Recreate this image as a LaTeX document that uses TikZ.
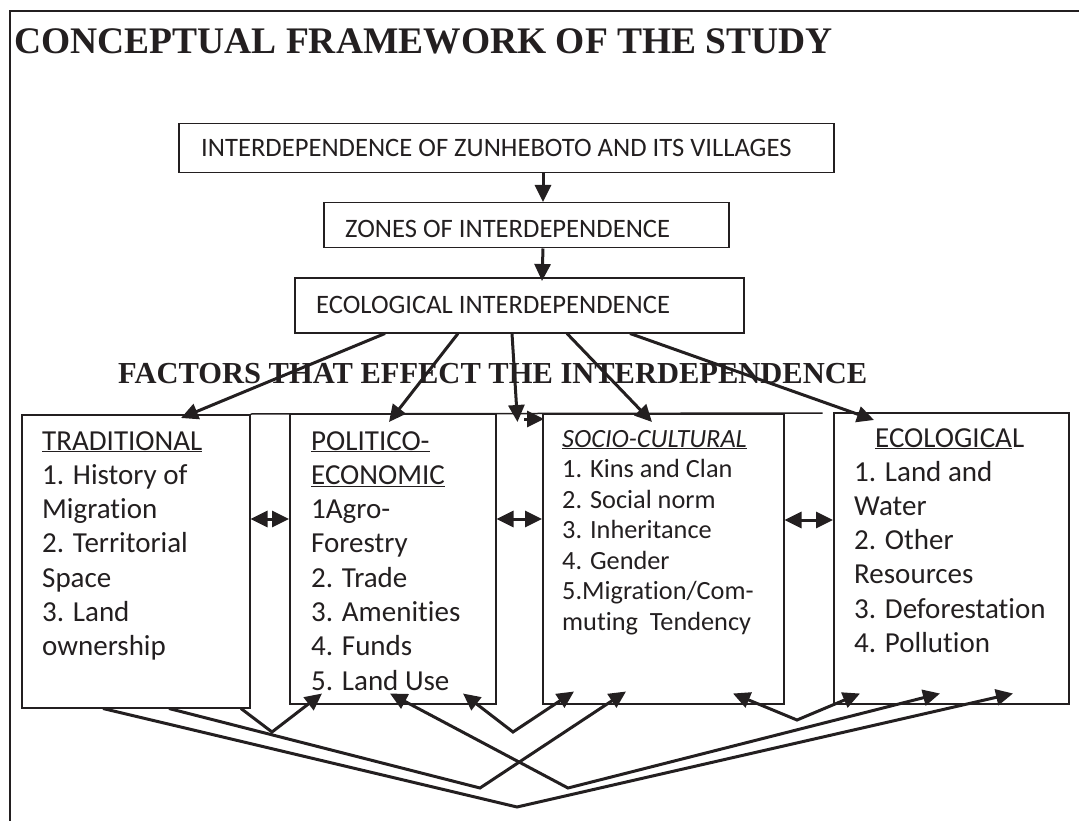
\documentclass[tikz,border=0pt]{standalone}
\usepackage{fontspec}
\setmainfont{Liberation Serif}
\newfontfamily\cfont[Ligatures=NoCommon]{Carlito}
\usetikzlibrary{arrows.meta,calc}
\definecolor{ink}{RGB}{35,31,32}
\tikzset{
  box/.style={draw=ink, line width=1.5pt, inner sep=0pt, anchor=north west},
  toptext/.style={anchor=base west, inner sep=0pt, text=ink, font=\cfont\fontsize{26.6}{31}\selectfont},
  bigtext/.style={anchor=base west, inner sep=0pt, text=ink},
  conn/.style={draw=ink, line width=3pt},
  arr/.style={conn, -{Triangle[length=17pt,width=16pt]}},
  darr/.style={conn, {Triangle[length=17pt,width=16pt]}-{Triangle[length=17pt,width=16pt]}},
}
\begin{document}
\begin{tikzpicture}[x=1pt,y=-1pt]
\useasboundingbox (0,0) rectangle (1079,821);
% outer frame
\draw[ink, line width=2pt] (10,840) -- (10,11) -- (1100,11);
% titles
\node[bigtext, font=\bfseries\fontsize{37.5}{40}\selectfont] (title) at (14,54) {CONCEPTUAL FRAMEWORK OF THE STUDY};
% top boxes
\node[box, minimum width=655pt, minimum height=49pt] (b1) at (178,123) {};
\node[toptext] (t1) at (201,157) {INTERDEPENDENCE OF ZUNHEBOTO AND ITS VILLAGES};
\node[box, minimum width=405pt, minimum height=45pt] (b2) at (323,202) {};
\node[toptext] (t2) at (345,237) {ZONES OF INTERDEPENDENCE};
\node[box, minimum width=449pt, minimum height=55pt] (b3) at (294,277) {};
\node[toptext] (t3) at (316,313) {ECOLOGICAL INTERDEPENDENCE};
% factor boxes
\node[box, minimum width=228pt, minimum height=293pt] (trad) at (21,414) {};
\node[box, minimum width=206pt, minimum height=290pt] (pol) at (289,413) {};
\node[box, minimum width=241pt, minimum height=290pt] (soc) at (542,413) {};
\node[box, minimum width=235pt, minimum height=291pt] (eco) at (833,412) {};
\draw[ink, line width=1.5pt] (trad.north east) -- ($(soc.north east)+(38,0)$);
% subtitle
\node[bigtext, font=\bfseries\fontsize{30.5}{33}\selectfont] (sub) at (118,383) {FACTORS THAT EFFECT THE INTERDEPENDENCE};
% box texts
\node[anchor=base west, inner sep=0pt, text=ink] (tt) at (42,450)
  {\parbox[t]{200pt}{\cfont\fontsize{29}{34.3}\selectfont\raggedright
   \underline{TRADITIONAL}\\1. History of\\Migration\\2. Territorial\\Space\\3. Land\\ownership}};
\node[anchor=base west, inner sep=0pt, text=ink] (pt) at (311,450)
  {\parbox[t]{180pt}{\cfont\fontsize{29}{34.3}\selectfont\raggedright
   \underline{POLITICO-}\\\underline{ECONOMIC}\\1Agro-\\Forestry\\2. Trade\\3. Amenities\\4. Funds\\5. Land Use}};
\node[anchor=base west, inner sep=0pt, text=ink] (st) at (562,447)
  {\parbox[t]{220pt}{\cfont\fontsize{26.3}{30.5}\selectfont\raggedright
   \underline{\textit{SOCIO-CULTURAL}}\\1. Kins and Clan\\2. Social norm\\3. Inheritance\\4. Gender\\5.Migration/Com-\\muting\ \ Tendency}};
\node[anchor=base west, inner sep=0pt, text=ink] (et) at (854,447)
  {\parbox[t]{210pt}{\cfont\fontsize{29}{34.2}\selectfont\raggedright
   \hspace*{21pt}\underline{ECOLOGICA}L\\1. Land and\\Water\\2. Other\\Resources\\3. Deforestation\\4. Pollution}};
% top arrows
\draw[arr] ($(b1.south west)+(365,0)$) -- ($(b2.north west)+(220,0)$);
\draw[arr] ($(b2.south west)+(220,0)$) -- ($(b3.north west)+(248,4)$);
% fan arrows
\draw[arr] ($(b3.south west)+(91,0)$) -- ($(trad.north west)+(160,4)$);
\draw[arr] ($(b3.south west)+(164,0)$) -- ($(pol.north west)+(100,9)$);
\draw[arr] ($(b3.south west)+(218,0)$) -- ($(pol.north east)+(21,9)$);
\draw[arr] ($(soc.north west)+(-18,6)$) -- ($(soc.north west)+(2,6)$);
\draw[arr] ($(b3.south west)+(273,0)$) -- ($(soc.north west)+(110,9)$);
\draw[arr] ($(b3.south west)+(336,0)$) -- ($(eco.north west)+(41,8)$);
% double arrows between boxes
\draw[darr] ($(trad.north east)+(0,105)$) -- ($(pol.north west)+(0,106)$);
\draw[darr] ($(pol.north east)+(0,106)$) -- ($(soc.north west)+(0,106)$);
\draw[darr] ($(soc.north east)+(0,107)$) -- ($(eco.north west)+(0,108)$);
% bottom vertices
\coordinate (v1) at (517,807);
\coordinate (v2) at (480,788);
\coordinate (v3) at (272,732);
\coordinate (v4) at (568,788);
\coordinate (v5) at (513,732);
\coordinate (v6) at (797,720);
\draw[arr] ($(trad.south west)+(82,0)$) -- (v1) -- ($(eco.south west)+(180,-11)$);
\draw[arr] ($(trad.south west)+(148,0)$) -- (v2) -- ($(soc.south west)+(84,-13)$);
\draw[arr] ($(trad.south west)+(220,0)$) -- (v3) -- ($(pol.south west)+(33,-11)$);
\draw[darr] ($(pol.south west)+(101,-11)$) -- (v4) -- ($(eco.south west)+(107,-11)$);
\draw[darr] ($(pol.south west)+(174,-11)$) -- (v5) -- ($(soc.south west)+(32,-13)$);
\draw[darr] ($(soc.south west)+(191,-11)$) -- (v6) -- ($(eco.south west)+(27,-11)$);
\end{tikzpicture}
\end{document}
